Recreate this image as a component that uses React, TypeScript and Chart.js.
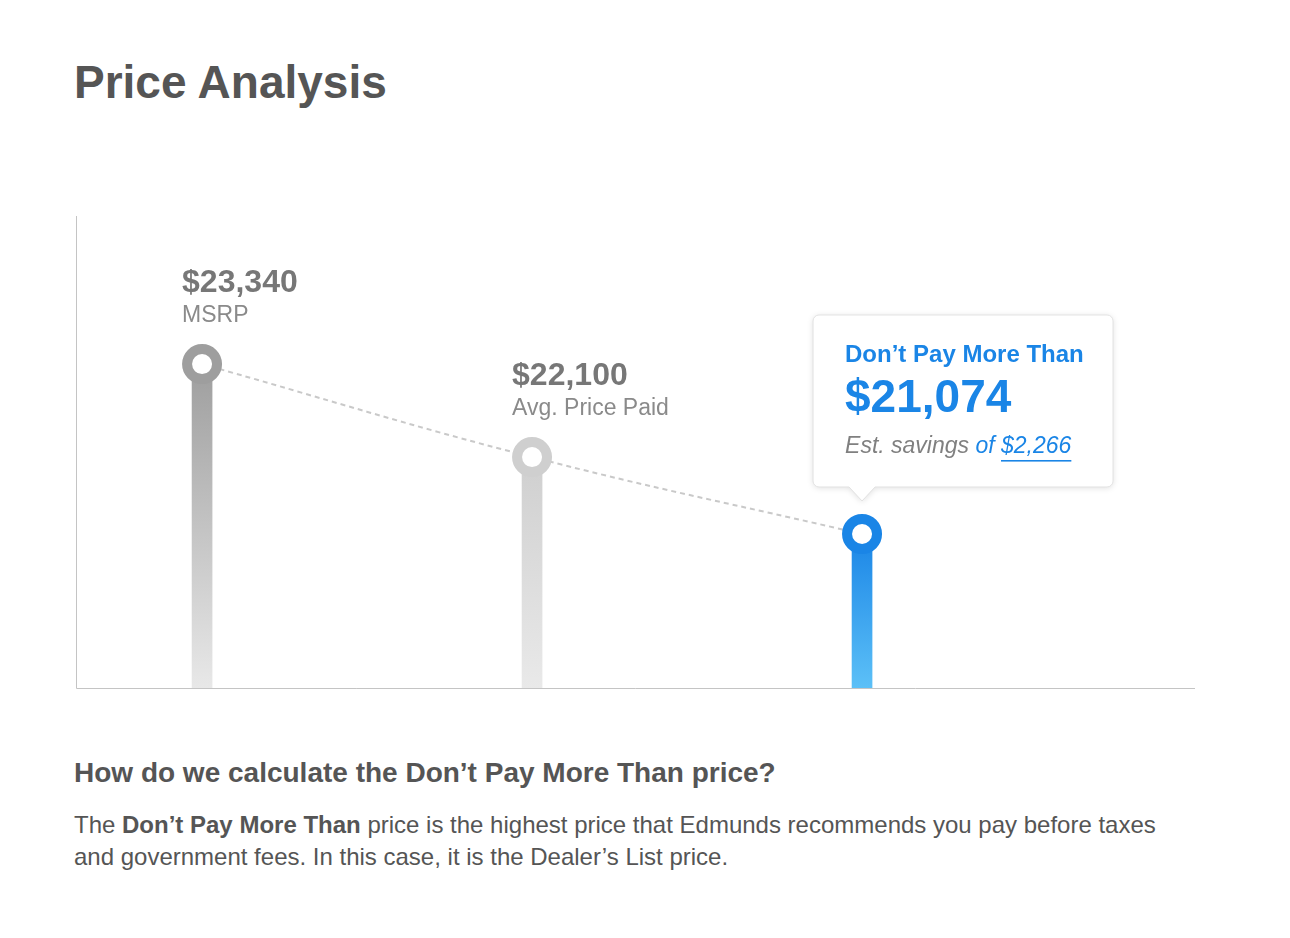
import React, { useEffect, useRef } from "react";
import { Chart, registerables } from "chart.js";

Chart.register(...registerables);

// ---- data ----
const categories = ["MSRP", "Avg. Price Paid", "Don’t Pay More Than"];
const prices = [23340, 22100, 21074];
const priceLabels = ["$23,340", "$22,100", "$21,074"];
const savingsPrefix = "Est. savings ";
const savingsOf = "of ";
const savingsLabel = "$2,266";
const titleText = "Price Analysis";
const headingText = "How do we calculate the Don’t Pay More Than price?";

// ---- styles ----
const FONT = "'Helvetica Neue', Helvetica, 'Liberation Sans', Arial, sans-serif";
const barTop = ["#9e9e9e", "#cfcfcf", "#1a85e6"];
const barBottom = ["#e8e8e8", "#e9e9e9", "#5cc0f7"];
const BLUE = "#1a85e6";

const axesPlugin = {
  id: "axesLines",
  afterDatasetsDraw(chart: any) {
    const { ctx, chartArea: a } = chart;
    ctx.save();
    ctx.strokeStyle = "#c4c4c4";
    ctx.lineWidth = 1;
    ctx.beginPath();
    ctx.moveTo(a.left - 0.5, a.top);
    ctx.lineTo(a.left - 0.5, a.bottom + 0.5);
    ctx.lineTo(a.right, a.bottom + 0.5);
    ctx.stroke();
    ctx.restore();
  },
};

const labelsPlugin = {
  id: "priceLabels",
  afterDraw(chart: any) {
    const ctx = chart.ctx;
    const meta = chart.getDatasetMeta(0);
    const pts = meta.data;
    ctx.save();
    ctx.textAlign = "left";
    ctx.textBaseline = "alphabetic";
    for (let i = 0; i < 2; i++) {
      const p = pts[i];
      ctx.fillStyle = "#777777";
      ctx.font = `bold 32px ${FONT}`;
      ctx.fillText(priceLabels[i], p.x - 20, p.y - 72);
      ctx.fillStyle = "#8a8a8a";
      ctx.font = `23px ${FONT}`;
      ctx.fillText(categories[i], p.x - 20, p.y - 42);
    }
    // callout box for last point
    const p = pts[2];
    const bx = p.x - 49;
    const by = p.y - 219;
    const bw = 300;
    const bh = 172;
    const r = 6;
    ctx.save();
    ctx.shadowColor = "rgba(0,0,0,0.13)";
    ctx.shadowBlur = 6;
    ctx.shadowOffsetY = 1;
    ctx.fillStyle = "#ffffff";
    ctx.beginPath();
    ctx.moveTo(bx + r, by);
    ctx.lineTo(bx + bw - r, by);
    ctx.arcTo(bx + bw, by, bx + bw, by + r, r);
    ctx.lineTo(bx + bw, by + bh - r);
    ctx.arcTo(bx + bw, by + bh, bx + bw - r, by + bh, r);
    ctx.lineTo(p.x + 13, by + bh);
    ctx.lineTo(p.x, by + bh + 14);
    ctx.lineTo(p.x - 13, by + bh);
    ctx.lineTo(bx + r, by + bh);
    ctx.arcTo(bx, by + bh, bx, by + bh - r, r);
    ctx.lineTo(bx, by + r);
    ctx.arcTo(bx, by, bx + r, by, r);
    ctx.closePath();
    ctx.fill();
    ctx.restore();
    ctx.strokeStyle = "#e2e2e2";
    ctx.lineWidth = 1;
    ctx.stroke();

    const tx = p.x - 17;
    ctx.fillStyle = BLUE;
    ctx.font = `bold 24px ${FONT}`;
    ctx.fillText(categories[2], tx, p.y - 172);
    ctx.font = `bold 46px ${FONT}`;
    ctx.fillText(priceLabels[2], tx, p.y - 122);
    ctx.font = `italic 23px ${FONT}`;
    ctx.fillStyle = "#808080";
    ctx.fillText(savingsPrefix, tx, p.y - 81);
    let x2 = tx + ctx.measureText(savingsPrefix).width;
    ctx.fillStyle = BLUE;
    ctx.fillText(savingsOf, x2, p.y - 81);
    x2 += ctx.measureText(savingsOf).width;
    ctx.fillText(savingsLabel, x2, p.y - 81);
    const w = ctx.measureText(savingsLabel).width;
    ctx.fillRect(x2, p.y - 74, w, 1.6);
    ctx.restore();
  },
};

export default function App() {
  const ref = useRef<HTMLCanvasElement | null>(null);

  useEffect(() => {
    if (!ref.current) return;
    const chart = new Chart(ref.current, {
      type: "bar",
      data: {
        datasets: [
          {
            type: "line",
            data: prices.map((v, i) => ({ x: i, y: v })),
            borderColor: "#c9c9c9",
            borderWidth: 2,
            borderDash: [5, 4],
            tension: 0.4,
            fill: false,
            pointRadius: 15,
            pointBorderWidth: 10,
            pointBackgroundColor: "#ffffff",
            pointBorderColor: barTop,
            clip: false,
          } as any,
          {
            type: "bar",
            data: prices.map((v, i) => ({ x: i, y: v })),
            barThickness: 20,
            borderWidth: 0,
            backgroundColor: (c: any) => {
              const ch = c.chart;
              const area = ch.chartArea;
              const i = c.dataIndex;
              if (!area || !ch.scales.y) return barTop[i];
              const top = ch.scales.y.getPixelForValue(prices[i]);
              const g = ch.ctx.createLinearGradient(0, top, 0, area.bottom);
              g.addColorStop(0, barTop[i]);
              g.addColorStop(1, barBottom[i]);
              return g;
            },
          } as any,
        ],
      },
      options: {
        responsive: false,
        animation: false,
        devicePixelRatio: 1,
        events: [],
        layout: { padding: { left: 77, right: 95, top: 216, bottom: 32 } },
        plugins: { legend: { display: false }, tooltip: { enabled: false } },
        scales: {
          x: { type: "linear", min: -0.379, max: 3.009, offset: false, display: false },
          y: { type: "linear", min: 19020, max: 25315, display: false },
        },
      },
      plugins: [axesPlugin, labelsPlugin],
    });
    return () => chart.destroy();
  }, []);

  return (
    <div
      style={{
        position: "absolute",
        left: 0,
        top: 0,
        width: 1290,
        height: 938,
        fontFamily: FONT,
        background: "#fff",
      }}
    >
      <div
        style={{
          position: "absolute",
          left: 74,
          top: 59,
          fontSize: 46,
          fontWeight: "bold",
          lineHeight: 1,
          color: "#555555",
          whiteSpace: "nowrap",
        }}
      >
        {titleText}
      </div>
      <canvas
        ref={ref}
        width={1290}
        height={720}
        style={{ position: "absolute", left: 0, top: 0, width: 1290, height: 720 }}
      />
      <div
        style={{
          position: "absolute",
          left: 74,
          top: 759,
          fontSize: 28,
          fontWeight: "bold",
          lineHeight: 1,
          color: "#555555",
          whiteSpace: "nowrap",
        }}
      >
        {headingText}
      </div>
      <div
        style={{
          position: "absolute",
          left: 74,
          top: 809,
          fontSize: 24,
          lineHeight: "32px",
          color: "#555555",
          whiteSpace: "nowrap",
        }}
      >
        The <b>Don’t Pay More Than</b> price is the highest price that Edmunds recommends you pay before taxes
        <br />
        and government fees. In this case, it is the Dealer’s List price.
      </div>
    </div>
  );
}
